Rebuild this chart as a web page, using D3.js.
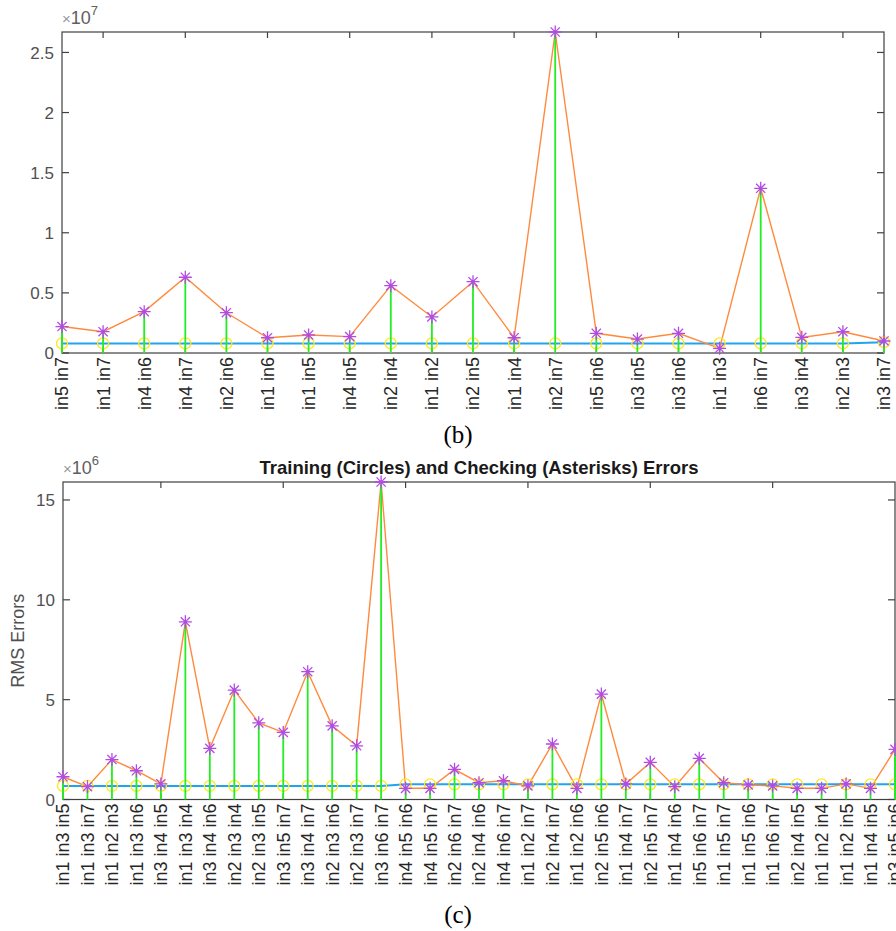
<!DOCTYPE html>
<html>
<head>
<meta charset="utf-8">
<script src="https://cdn.jsdelivr.net/npm/d3@7"></script>
<style>
body { margin: 0; background: #fff; }
svg text { font-family: "Liberation Sans", Arial, sans-serif; }
</style>
</head>
<body>
<div id="chart"></div>
<script>
// panel (b): two-input combinations
var labelsB = ["in5 in7", "in1 in7", "in4 in6", "in4 in7", "in2 in6", "in1 in6", "in1 in5",
    "in4 in5", "in2 in4", "in1 in2", "in2 in5", "in1 in4", "in2 in7", "in5 in6",
    "in3 in5", "in3 in6", "in1 in3", "in6 in7", "in3 in4", "in2 in3", "in3 in7"];
var trnB = [0.8e6, 0.8e6, 0.8e6, 0.8e6, 0.8e6, 0.8e6, 0.8e6, 0.8e6, 0.8e6, 0.8e6, 0.8e6,
    0.8e6, 0.8e6, 0.8e6, 0.8e6, 0.8e6, 0.8e6, 0.8e6, 0.8e6, 0.8e6, 0.9e6];
var chkB = [2.2e6, 1.77e6, 3.44e6, 6.3e6, 3.35e6, 1.27e6, 1.5e6, 1.36e6, 5.6e6, 3.0e6, 5.93e6,
    1.27e6, 26.7e6, 1.64e6, 1.16e6, 1.64e6, 0.39e6, 13.7e6, 1.3e6, 1.77e6, 1.0e6];
var yTicksB = [0, 0.5e7, 1e7, 1.5e7, 2e7, 2.5e7];
var yTickTextB = ["0", "0.5", "1", "1.5", "2", "2.5"];
var xTicksB = [2, 4, 6, 8, 10, 12, 14, 16, 18, 20];

// panel (c): three-input combinations
var labelsC = ["in1 in3 in5", "in1 in3 in7", "in1 in2 in3", "in1 in3 in6", "in3 in4 in5",
    "in1 in3 in4", "in3 in4 in6", "in2 in3 in4", "in2 in3 in5", "in3 in5 in7", "in3 in4 in7",
    "in2 in3 in6", "in2 in3 in7", "in3 in6 in7", "in4 in5 in6", "in4 in5 in7", "in2 in6 in7",
    "in2 in4 in6", "in4 in6 in7", "in1 in2 in7", "in2 in4 in7", "in1 in2 in6", "in2 in5 in6",
    "in1 in4 in7", "in2 in5 in7", "in1 in4 in6", "in5 in6 in7", "in1 in5 in7", "in1 in5 in6",
    "in1 in6 in7", "in2 in4 in5", "in1 in2 in4", "in1 in2 in5", "in1 in4 in5", "in3 in5 in6"];
var trnC = [0.68e6, 0.68e6, 0.68e6, 0.68e6, 0.68e6, 0.68e6, 0.68e6, 0.68e6, 0.68e6, 0.68e6,
    0.68e6, 0.68e6, 0.68e6, 0.68e6, 0.76e6, 0.76e6, 0.76e6, 0.76e6, 0.76e6, 0.76e6, 0.76e6,
    0.76e6, 0.76e6, 0.76e6, 0.76e6, 0.76e6, 0.76e6, 0.76e6, 0.76e6, 0.76e6, 0.76e6, 0.76e6,
    0.76e6, 0.76e6, 0.76e6];
var chkC = [1.14e6, 0.64e6, 2.0e6, 1.44e6, 0.78e6, 8.9e6, 2.56e6, 5.48e6, 3.84e6, 3.36e6,
    6.4e6, 3.69e6, 2.69e6, 15.9e6, 0.56e6, 0.56e6, 1.51e6, 0.84e6, 0.94e6, 0.68e6, 2.78e6,
    0.56e6, 5.28e6, 0.78e6, 1.86e6, 0.64e6, 2.06e6, 0.84e6, 0.73e6, 0.68e6, 0.56e6, 0.56e6,
    0.78e6, 0.56e6, 2.51e6];
var yTicksC = [0, 5e6, 10e6, 15e6];
var yTickTextC = ["0", "5", "10", "15"];
var xTicksC = [5, 10, 15, 20, 25, 30];

var W = 896, H = 931;
var axisColor = "#404040";

var svg = d3.select("#chart").append("svg")
    .attr("width", W)
    .attr("height", H)
    .style("display", "block");

function drawPanel(p) {
    var x = d3.scaleLinear().domain([1, p.labels.length]).range([p.left, p.right]);
    var y = d3.scaleLinear().domain([0, d3.max(p.chk)]).range([p.bottom, p.top]);
    var g = svg.append("g");

    // box
    g.append("rect")
        .attr("x", p.left).attr("y", p.top)
        .attr("width", p.right - p.left).attr("height", p.bottom - p.top)
        .attr("fill", "none").attr("stroke", axisColor).attr("stroke-width", 1.2);

    // ticks (inward, MATLAB style)
    p.xTicks.forEach(function (t) {
        g.append("line").attr("x1", x(t)).attr("x2", x(t))
            .attr("y1", p.top).attr("y2", p.top + 6)
            .attr("stroke", axisColor).attr("stroke-width", 1.2);
        g.append("line").attr("x1", x(t)).attr("x2", x(t))
            .attr("y1", p.bottom).attr("y2", p.bottom - 6)
            .attr("stroke", axisColor).attr("stroke-width", 1.2);
    });
    p.yTicks.forEach(function (t, i) {
        g.append("line").attr("x1", p.left).attr("x2", p.left + 7)
            .attr("y1", y(t)).attr("y2", y(t))
            .attr("stroke", axisColor).attr("stroke-width", 1.2);
        g.append("line").attr("x1", p.right).attr("x2", p.right - 7)
            .attr("y1", y(t)).attr("y2", y(t))
            .attr("stroke", axisColor).attr("stroke-width", 1.2);
        g.append("text")
            .attr("x", p.left - 8).attr("y", y(t))
            .attr("dy", "0.36em")
            .attr("text-anchor", "end")
            .style("font-size", "17px")
            .style("fill", "#505050")
            .text(p.yTickText[i]);
    });

    // exponent
    var ex = g.append("text")
        .attr("x", p.left).attr("y", p.top - 8)
        .style("font-size", "18px")
        .style("fill", "#606060");
    ex.append("tspan").style("font-size", "15px").style("fill", "#999").text("\u00d7");
    ex.append("tspan").text("10");
    ex.append("tspan").attr("dy", -9).style("font-size", "13px").text(p.exponent);

    // x labels
    g.selectAll("text.xl")
        .data(p.labels)
        .enter()
        .append("text")
        .attr("class", "xl")
        .attr("transform", function (d, i) {
            return "translate(" + x(i + 1) + "," + (p.bottom + 4) + ") rotate(-90)";
        })
        .attr("dy", "0.36em")
        .attr("text-anchor", "end")
        .style("font-size", "18px")
        .style("fill", "#262626")
        .text(function (d) { return d; });

    var line = d3.line()
        .x(function (d, i) { return x(i + 1); })
        .y(function (d) { return y(d); });

    g.append("path").datum(p.trn)
        .attr("d", line)
        .attr("fill", "none").attr("stroke", "#20a4f0").attr("stroke-width", 2);
    g.append("path").datum(p.chk)
        .attr("d", line)
        .attr("fill", "none").attr("stroke", "#ff8a3d").attr("stroke-width", 1.4);

    g.selectAll("circle.trn")
        .data(p.trn)
        .enter()
        .append("circle")
        .attr("class", "trn")
        .attr("cx", function (d, i) { return x(i + 1); })
        .attr("cy", function (d) { return y(d); })
        .attr("r", 5.5)
        .attr("fill", "none").attr("stroke", "#ffe81a").attr("stroke-width", 1.3);

    // stems
    g.selectAll("line.stem")
        .data(p.chk)
        .enter()
        .append("line")
        .attr("class", "stem")
        .attr("x1", function (d, i) { return x(i + 1); })
        .attr("x2", function (d, i) { return x(i + 1); })
        .attr("y1", y(0))
        .attr("y2", function (d) { return y(d); })
        .attr("stroke", "#22ee22").attr("stroke-width", 1.8);

    // asterisks
    var s = 6.5, s2 = 4.6;
    g.selectAll("path.chk")
        .data(p.chk)
        .enter()
        .append("path")
        .attr("class", "chk")
        .attr("d", function (d, i) {
            var cx = x(i + 1), cy = y(d);
            return "M" + (cx - s) + "," + cy + "L" + (cx + s) + "," + cy +
                "M" + cx + "," + (cy - s) + "L" + cx + "," + (cy + s) +
                "M" + (cx - s2) + "," + (cy - s2) + "L" + (cx + s2) + "," + (cy + s2) +
                "M" + (cx - s2) + "," + (cy + s2) + "L" + (cx + s2) + "," + (cy - s2);
        })
        .attr("fill", "none").attr("stroke", "#b44ae6").attr("stroke-width", 1.3);

    if (p.title) {
        g.append("text")
            .attr("x", (p.left + p.right) / 2).attr("y", p.top - 8)
            .attr("text-anchor", "middle")
            .style("font-size", "18.5px").style("font-weight", "bold")
            .style("fill", "#1a1a1a")
            .text(p.title);
    }
    if (p.ylabel) {
        g.append("text")
            .attr("transform", "translate(" + 24 + "," + ((p.top + p.bottom) / 2) + ") rotate(-90)")
            .attr("text-anchor", "middle")
            .style("font-size", "18px")
            .style("fill", "#505050")
            .text(p.ylabel);
    }
    svg.append("text")
        .attr("x", 458).attr("y", p.capY)
        .attr("text-anchor", "middle")
        .style("font-family", "'Liberation Serif', 'Times New Roman', serif")
        .style("font-size", "25px")
        .style("fill", "#000")
        .text(p.caption);
}

drawPanel({
    labels: labelsB, trn: trnB, chk: chkB,
    yTicks: yTicksB, yTickText: yTickTextB, xTicks: xTicksB,
    left: 62, right: 884, top: 32, bottom: 353,
    exponent: "7", caption: "(b)", capY: 443
});

drawPanel({
    labels: labelsC, trn: trnC, chk: chkC,
    yTicks: yTicksC, yTickText: yTickTextC, xTicks: xTicksC,
    left: 63, right: 895, top: 482, bottom: 799.5,
    exponent: "6", caption: "(c)", capY: 923,
    title: "Training (Circles) and Checking (Asterisks) Errors",
    ylabel: "RMS Errors"
});
</script>
</body>
</html>
